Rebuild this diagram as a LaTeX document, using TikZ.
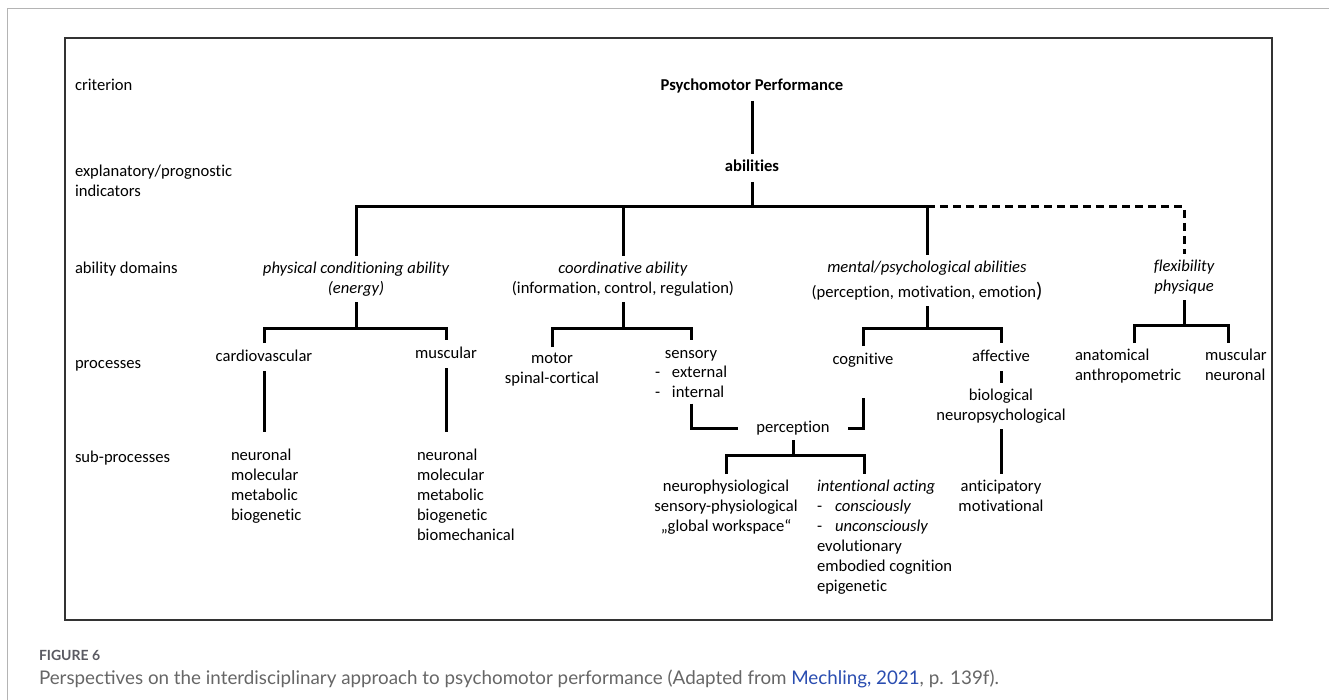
\documentclass[tikz,border=0pt]{standalone}
\usepackage{fontspec}
\setmainfont{Carlito}[Ligatures=NoCommon]
\newfontfamily\capfont{Lato}
\usepackage{xcolor}
\definecolor{capgray}{HTML}{666666}
\definecolor{figgray}{HTML}{5A5A62}
\definecolor{linkblue}{HTML}{2A4DB0}
\definecolor{framegray}{HTML}{B4B4B4}
\definecolor{boxgray}{HTML}{333333}

\begin{document}
\begin{tikzpicture}[x=1pt, y=-1pt,
        every node/.style={font=\fontsize{16.6}{20}\selectfont, inner sep=0pt, outer sep=6pt},
        lbl/.style={text height=12pt, text depth=4pt, anchor=base},
        blk/.style={align=center, anchor=north},
        lblk/.style={align=left, anchor=north west},
        side/.style={outer sep=0pt, anchor=base west},
        captxt/.style={outer sep=0pt, anchor=base west, text=capgray, font=\capfont\fontsize{18.8}{22}\selectfont},
        tree/.style={line width=3pt},
        dashtree/.style={tree, dash pattern=on 8pt off 5pt}]
        \useasboundingbox (0,0) rectangle (1329,700);

        \draw[framegray, line width=1pt] (7,700) -- (7,9) -- (1329,9);
        \draw[boxgray, line width=1.2pt] (65,38) rectangle (1272,620);

        \node[side] (crit) at (75,91) {criterion};
        \node[side, align=left, anchor=north west] (expl) at (75,165) {explanatory/prognostic\\indicators};
        \node[side] (dom) at (75,274) {ability domains};
        \node[side] (proc) at (75,368) {processes};
        \node[side] (subp) at (75,462) {sub-processes};

        \node[lbl, font=\fontsize{16.6}{20}\selectfont\bfseries] (psych) at (752,91) {Psychomotor Performance};
        \node[lbl, font=\fontsize{16.6}{20}\selectfont\bfseries] (abil) at (752,172) {abilities};

        \node[blk, font=\fontsize{16.6}{20}\selectfont\itshape] (phys) at (356,256) {physical conditioning ability\\(energy)};
        \node[blk] (coord) at (623,256) {\textit{coordinative ability}\\(information, control, regulation)};
        \node[blk] (mental) at (927,255) {\textit{mental/psychological abilities}\\[5pt](perception, motivation, emotion{\fontsize{21}{20}\selectfont)}};
        \node[blk, font=\fontsize{16.6}{20}\selectfont\itshape] (flex) at (1184,254) {flexibility\\physique};

        \node[lbl] (cardio) at (264,361) {cardiovascular};
        \node[lbl] (musc) at (446,358) {muscular};
        \node[blk] (motor) at (552,347) {motor\\spinal-cortical};
        \node[lbl] (sens) at (691,358) {sensory};
        \node[lblk] (sensl) at (649,360) {\makebox[17pt][l]{-}external\\\makebox[17pt][l]{-}internal};
        \node[lbl] (cog) at (863,364) {cognitive};
        \node[lbl] (aff) at (1001,361) {affective};
        \node[lblk] (anat) at (1069,343) {anatomical\\anthropometric};
        \node[lblk] (muscn) at (1199,343) {muscular\\neuronal};

        \node[lblk] (cardsub) at (225,443) {neuronal\\molecular\\metabolic\\biogenetic};
        \node[lblk] (muscsub) at (411,443) {neuronal\\molecular\\metabolic\\biogenetic\\biomechanical};
        \node[lbl, outer xsep=18pt, outer ysep=4pt] (perc) at (793,432) {perception};
        \node[blk] (bio) at (1001,383) {biological\\neuropsychological};
        \node[blk] (neuro) at (726,474) {neurophysiological\\sensory-physiological\\„global workspace“};
        \node[lblk] (intent) at (811,474) {\textit{intentional acting}\\\makebox[18pt][l]{-}\textit{consciously}\\\makebox[18pt][l]{-}\textit{unconsciously}\\evolutionary\\embodied cognition\\epigenetic};
        \node[blk] (antic) at (1001,474) {anticipatory\\motivational};

        \coordinate (top) at (752,207);
        \coordinate (physbar) at (356,328);
        \coordinate (coordbar) at (623,328);
        \coordinate (mentbar) at (927,328);
        \coordinate (flexbar) at (1184,325);
        \coordinate (percbar) at (793,455);

        \draw[tree] (psych) -- (abil);
        \draw[tree] (abil) -- (top);
        \draw[tree] (phys) |- (top) -| (mental);
        \draw[tree] (coord) -- (coord |- top);
        \draw[dashtree] (mental |- top) -| (flex);

        \draw[tree] (phys) -- (physbar);
        \draw[tree] (cardio) |- (physbar) -| (musc);
        \draw[tree] (coord) -- (coordbar);
        \draw[tree] (motor) |- (coordbar) -| (sens);
        \draw[tree] (mental) -- (mentbar);
        \draw[tree] (cog) |- (mentbar) -| (aff);
        \draw[tree] (flex) -- (flexbar);
        \draw[tree] ([xshift=6pt]anat.north) |- (flexbar) -| ([xshift=-7pt]muscn.north);

        \draw[tree, shorten >=11pt] (cardio) -- (cardio |- cardsub.north);
        \draw[tree, shorten >=11pt] (musc) -- (musc |- muscsub.north);
        \draw[tree] (sensl) |- (perc);
        \draw[tree, shorten <=24pt] (cog) |- (perc);
        \draw[tree] (perc) -- (percbar);
        \draw[tree] (neuro) |- (percbar) -| ([xshift=-20pt]intent.north);
        \draw[tree] (aff) -- (bio);
        \draw[tree] (bio) -- (antic);

        \node[captxt, text=figgray, font=\capfont\fontsize{14}{20}\selectfont\bfseries] (fig) at (39,660) {FIGURE 6};
        \node[captxt] (caption) at (39,684) {Perspectives on the interdisciplinary approach to psychomotor performance (Adapted from \textcolor{linkblue}{Mechling, 2021}, p. 139f).};
    \end{tikzpicture}
\end{document}
